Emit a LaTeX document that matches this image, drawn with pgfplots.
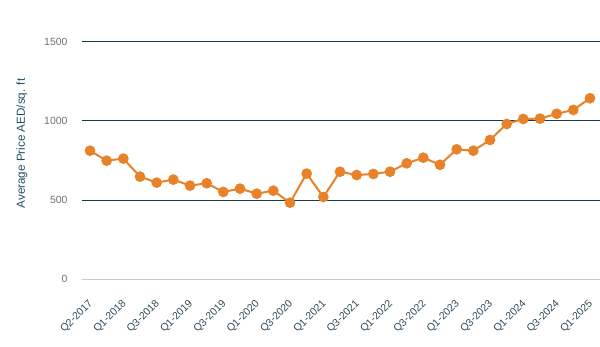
\documentclass[border=0pt]{standalone}
\usepackage{pgfplots}
\pgfplotsset{compat=1.18}
\usepackage{fontspec}
\setmainfont{Liberation Sans}
\definecolor{lineor}{HTML}{E8822A}
\definecolor{gridc}{HTML}{1B3A4B}
\definecolor{ylab}{HTML}{1F4E63}
\definecolor{xlab}{HTML}{2E4A5A}
\definecolor{ytk}{HTML}{707070}
\begin{document}
\begin{tikzpicture}
\useasboundingbox (-82bp,-68bp) rectangle (518bp,279bp);
\begin{axis}[
  at={(0,0)}, anchor=south west,
  scale only axis, width=518bp, height=237bp,
  axis x line=bottom, axis y line=left,
  axis line style={draw=none, -},
  xmin=-0.48, xmax=30.6, ymin=0, ymax=1500,
  xtick={0,2,...,30},
  xticklabels={Q2-2017,Q1-2018,Q3-2018,Q1-2019,Q3-2019,Q1-2020,Q3-2020,Q1-2021,Q3-2021,Q1-2022,Q3-2022,Q1-2023,Q3-2023,Q1-2024,Q3-2024,Q1-2025},
  ytick={500,1000,1500},
  extra y ticks={0},
  ymajorgrids,
  grid style={gridc, line width=1bp},
  extra y tick style={grid style={black!20, line width=0.8bp}},
  major tick length=0pt,
  /pgf/number format/assume math mode=true,
  /pgf/number format/1000 sep={},
  yticklabel style={font=\fontsize{10.5}{12}\selectfont, color=ytk, xshift=-11bp},
  xticklabel style={rotate=45, anchor=north east, font=\fontsize{10.5}{12}\selectfont, color=xlab, xshift=-12bp, yshift=-9bp},
  ylabel={Average Price AED/sq. ft},
  ylabel style={at={(rel axis cs:-0.116,0.572)}, anchor=center, color=ylab, font=\fontsize{11.7}{13}\selectfont},
  clip=false,
]
\addplot[lineor, line width=2bp, mark=*, mark size=4.3bp, mark options={fill=lineor, draw=lineor}] coordinates {
(0,812) (1,749) (2,762) (3,648) (4,610) (5,629) (6,591) (7,606) (8,551) (9,572)
(10,540) (11,559) (12,483) (13,667) (14,519) (15,679) (16,658) (17,665) (18,679) (19,732)
(20,768) (21,723) (22,821) (23,812) (24,880) (25,981) (26,1013) (27,1015) (28,1046) (29,1070)
(30,1144)
};
\end{axis}
\end{tikzpicture}
\end{document}
